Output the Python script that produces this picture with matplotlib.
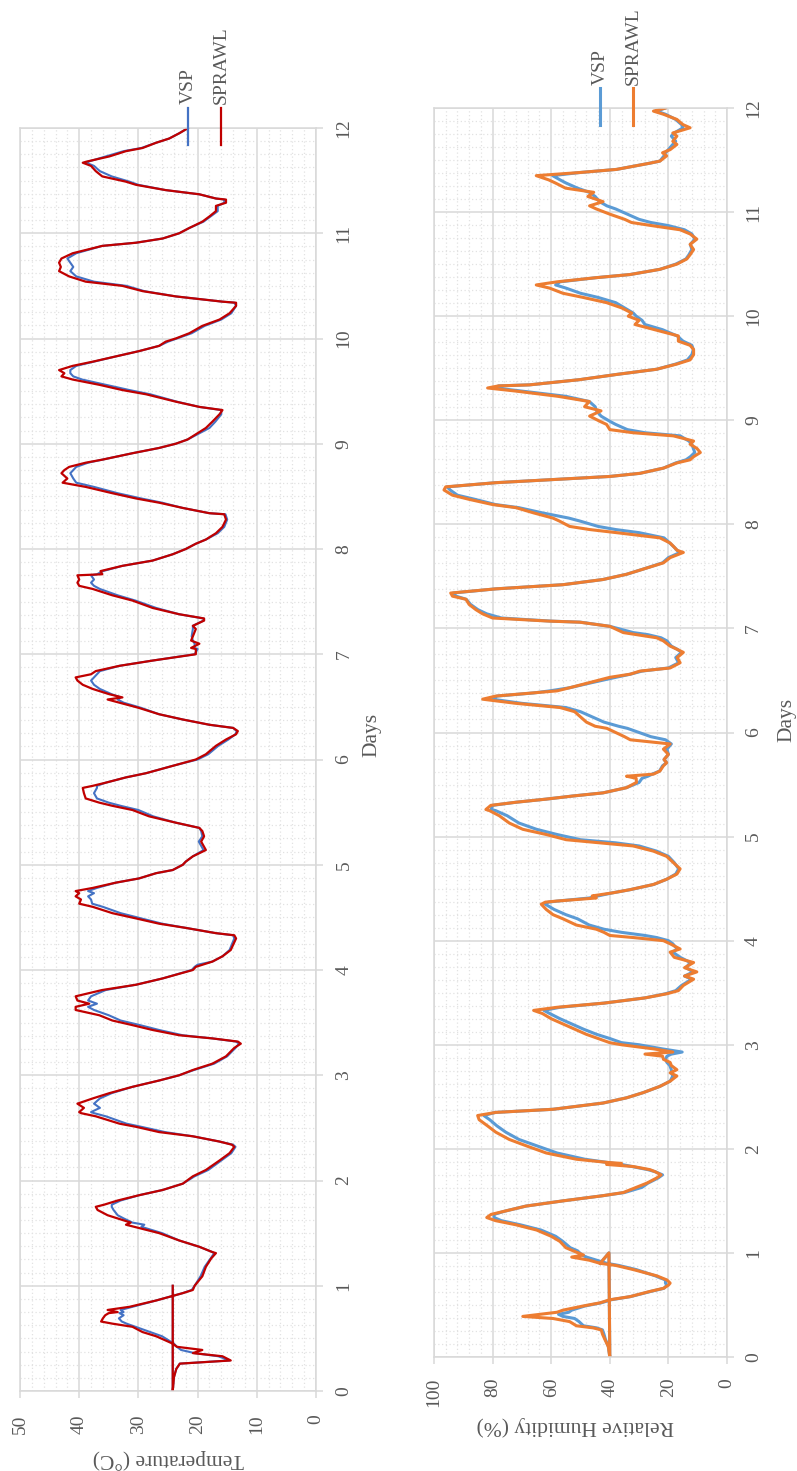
"""Indoor temperature and relative humidity, VSP vs SPRAWL, over 12 days.

The sheet is laid out rotated (days run bottom-to-top, values right-to-left),
so axes are drawn in that orientation with rotated text.
"""
import matplotlib
matplotlib.use("Agg")
import matplotlib.pyplot as plt
from matplotlib.lines import Line2D
from matplotlib.ticker import MultipleLocator

plt.rcParams["font.family"] = ["Liberation Serif", "DejaVu Serif"]

# ---- temperature (deg C) ----
t_days = [
    1.00, 0.00, 0.13, 0.21, 0.26, 0.29, 0.33, 0.36, 0.39, 0.42,
    0.45, 0.52, 0.56, 0.61, 0.64, 0.66, 0.69, 0.72, 0.74, 0.75,
    0.77, 0.80, 0.86, 0.93, 0.96, 1.00, 1.09, 1.18, 1.26, 1.31,
    1.32, 1.37, 1.43, 1.50, 1.56, 1.58, 1.60, 1.64, 1.67, 1.72,
    1.75, 1.77, 1.81, 1.86, 1.91, 1.97, 2.04, 2.10, 2.19, 2.26,
    2.32, 2.34, 2.37, 2.42, 2.46, 2.51, 2.54, 2.61, 2.64, 2.65,
    2.69, 2.73, 2.78, 2.83, 2.89, 2.95, 3.00, 3.05, 3.11, 3.18,
    3.26, 3.30, 3.32, 3.35, 3.38, 3.43, 3.48, 3.52, 3.57, 3.62,
    3.65, 3.68, 3.71, 3.75, 3.81, 3.86, 3.92, 4.00, 4.03, 4.05,
    4.08, 4.13, 4.19, 4.30, 4.33, 4.35, 4.40, 4.44, 4.49, 4.54,
    4.60, 4.63, 4.67, 4.70, 4.73, 4.75, 4.78, 4.83, 4.87, 4.92,
    4.95, 5.00, 5.03, 5.08, 5.14, 5.22, 5.27, 5.32, 5.35, 5.40,
    5.46, 5.52, 5.56, 5.59, 5.63, 5.68, 5.73, 5.75, 5.78, 5.83,
    5.87, 5.94, 6.00, 6.05, 6.13, 6.19, 6.24, 6.27, 6.30, 6.33,
    6.38, 6.43, 6.49, 6.54, 6.57, 6.59, 6.62, 6.67, 6.71, 6.75,
    6.78, 6.81, 6.84, 6.89, 6.94, 7.00, 7.05, 7.06, 7.10, 7.13,
    7.17, 7.24, 7.27, 7.32, 7.34, 7.38, 7.44, 7.51, 7.56, 7.62,
    7.65, 7.68, 7.71, 7.75, 7.76, 7.79, 7.84, 7.89, 7.95, 8.00,
    8.05, 8.09, 8.15, 8.21, 8.28, 8.33, 8.34, 8.39, 8.44, 8.48,
    8.53, 8.59, 8.63, 8.67, 8.72, 8.75, 8.78, 8.82, 8.85, 8.91,
    8.96, 9.00, 9.04, 9.09, 9.15, 9.21, 9.28, 9.32, 9.35, 9.40,
    9.47, 9.51, 9.56, 9.61, 9.64, 9.67, 9.70, 9.74, 9.78, 9.83,
    9.88, 9.93, 9.97, 10.00, 10.05, 10.12, 10.18, 10.24, 10.31, 10.34,
    10.35, 10.40, 10.45, 10.50, 10.54, 10.59, 10.64, 10.68, 10.72, 10.76,
    10.81, 10.88, 10.91, 10.95, 11.00, 11.05, 11.11, 11.16, 11.21, 11.26,
    11.29, 11.32, 11.33, 11.37, 11.41, 11.46, 11.49, 11.54, 11.59, 11.64,
    11.67, 11.68, 11.73, 11.78, 11.81, 11.86, 11.90, 11.95, 12.00,
]
t_sprawl = [
    24.2, 24.2, 24.0, 23.6, 23.0, 14.4, 15.8, 20.8, 19.2, 23.5,
    24.2, 27.0, 29.3, 31.0, 34.4, 36.3, 36.0, 35.6, 35.0, 33.5,
    35.2, 31.5, 27.0, 22.5, 20.8, 20.5, 19.2, 18.6, 17.7, 16.9,
    17.5, 19.7, 23.1, 26.5, 30.7, 32.1, 31.3, 33.5, 35.2, 36.9,
    37.2, 35.8, 33.5, 29.9, 25.9, 22.5, 20.8, 18.6, 16.3, 14.6,
    13.8, 14.2, 16.3, 20.8, 26.5, 30.4, 33.2, 37.2, 39.7, 40.0,
    39.2, 40.3, 37.7, 34.9, 31.0, 26.5, 23.1, 20.8, 17.5, 15.2,
    13.8, 12.7, 13.2, 17.5, 23.1, 27.6, 31.3, 34.4, 36.6, 40.6,
    40.6, 38.3, 40.3, 40.6, 36.1, 30.4, 25.9, 20.8, 20.3, 19.2,
    17.5, 15.8, 14.4, 13.5, 13.8, 16.9, 22.0, 26.5, 30.4, 34.4,
    37.7, 40.0, 39.7, 40.6, 40.0, 40.6, 37.7, 33.8, 29.9, 27.0,
    24.2, 22.5, 22.0, 20.8, 18.6, 19.4, 18.9, 19.2, 19.7, 23.7,
    28.2, 31.0, 34.4, 36.6, 38.9, 39.2, 39.4, 37.7, 35.5, 32.1,
    28.7, 24.2, 20.3, 18.6, 16.9, 15.2, 13.5, 13.2, 14.0, 18.0,
    22.5, 26.5, 29.9, 33.2, 35.2, 32.7, 34.9, 37.7, 39.4, 40.3,
    40.6, 38.0, 37.2, 33.2, 27.6, 20.3, 20.3, 21.1, 19.7, 21.1,
    20.8, 20.3, 20.8, 18.9, 18.9, 23.1, 27.6, 31.0, 34.4, 37.7,
    40.0, 40.3, 40.0, 40.3, 36.1, 36.4, 32.7, 27.6, 24.2, 22.0,
    20.3, 18.6, 16.9, 15.8, 15.2, 15.5, 18.0, 22.5, 26.5, 30.4,
    34.4, 38.9, 42.8, 42.0, 43.0, 42.5, 41.7, 38.9, 36.0, 31.0,
    26.5, 23.7, 21.7, 20.3, 18.6, 17.5, 16.3, 15.8, 19.7, 23.7,
    28.7, 32.7, 36.6, 41.1, 43.0, 42.5, 43.4, 41.1, 37.7, 33.8,
    29.9, 26.5, 25.4, 23.7, 21.4, 19.2, 16.3, 14.6, 13.5, 13.5,
    15.8, 23.7, 29.3, 32.7, 38.9, 41.7, 43.4, 43.1, 43.4, 43.0,
    41.1, 36.1, 30.4, 25.9, 23.1, 21.4, 19.2, 18.0, 16.9, 16.9,
    15.2, 15.2, 16.9, 19.7, 25.4, 30.4, 32.1, 36.1, 37.2, 38.0,
    39.4, 38.8, 34.9, 32.1, 29.3, 27.0, 24.8, 23.1, 21.6,
]
t_vsp = [
    24.2, 24.2, 24.0, 23.6, 23.0, 14.6, 16.5, 20.5, 22.8, 23.5,
    24.0, 26.0, 28.0, 30.5, 32.0, 32.8, 33.3, 32.5, 33.2, 32.5,
    33.0, 31.0, 27.0, 22.5, 21.0, 20.5, 19.5, 18.8, 17.8, 17.2,
    17.5, 19.7, 23.1, 26.0, 29.5, 29.0, 31.0, 32.5, 33.5, 34.2,
    34.5, 34.5, 33.0, 29.9, 25.9, 22.5, 20.5, 18.2, 16.0, 14.3,
    13.6, 14.0, 16.3, 20.8, 25.5, 29.5, 32.0, 35.5, 37.5, 38.0,
    36.5, 37.5, 36.5, 34.5, 31.0, 26.5, 23.1, 20.6, 17.2, 15.0,
    13.6, 13.0, 13.5, 17.5, 22.5, 26.5, 30.0, 33.0, 35.0, 37.5,
    38.5, 37.0, 38.5, 38.0, 35.5, 30.4, 25.9, 21.0, 20.5, 20.0,
    17.5, 15.8, 14.6, 13.8, 14.0, 16.9, 22.0, 26.0, 29.5, 33.0,
    36.0, 37.8, 38.0, 38.5, 37.5, 38.5, 37.0, 33.8, 29.9, 27.0,
    24.2, 22.5, 22.0, 20.8, 19.0, 19.8, 19.2, 19.4, 19.7, 23.7,
    27.5, 30.0, 33.0, 35.0, 37.0, 37.5, 37.0, 37.0, 35.5, 32.1,
    28.7, 24.2, 20.0, 18.2, 16.5, 14.8, 13.6, 13.4, 14.0, 18.0,
    22.5, 26.5, 29.5, 32.5, 33.5, 33.0, 34.5, 36.5, 37.5, 38.0,
    37.5, 37.0, 36.5, 33.2, 27.6, 20.5, 20.0, 20.5, 20.5, 20.8,
    21.0, 20.8, 20.8, 19.0, 19.0, 23.1, 27.0, 30.5, 33.5, 36.5,
    37.5, 38.0, 37.5, 38.0, 37.0, 36.0, 32.7, 27.6, 24.2, 22.0,
    20.3, 18.6, 16.6, 15.5, 15.0, 15.3, 18.0, 22.5, 26.0, 29.5,
    33.5, 37.5, 40.5, 41.0, 41.5, 41.0, 40.5, 38.5, 36.0, 31.0,
    26.5, 23.7, 21.7, 20.0, 18.0, 17.0, 16.0, 16.0, 19.7, 23.5,
    28.0, 31.5, 35.5, 39.5, 41.0, 41.5, 41.5, 40.5, 37.5, 33.8,
    29.9, 26.5, 25.0, 23.5, 21.0, 18.8, 16.0, 14.3, 13.5, 13.8,
    15.8, 23.7, 29.0, 32.0, 37.5, 40.5, 41.5, 41.0, 41.5, 42.0,
    40.5, 36.1, 30.4, 25.9, 23.1, 21.4, 19.0, 17.8, 16.6, 16.6,
    15.5, 15.5, 16.9, 19.7, 25.4, 30.0, 31.5, 34.5, 36.5, 37.5,
    38.8, 38.5, 35.5, 32.5, 29.5, 27.0, 24.8, 23.1, 21.6,
]

# ---- relative humidity (%) ----
rh_days = [
    0.90, 1.00, 0.00, 0.10, 0.17, 0.22, 0.26, 0.28, 0.30, 0.34,
    0.37, 0.39, 0.41, 0.43, 0.45, 0.49, 0.52, 0.55, 0.58, 0.63,
    0.66, 0.69, 0.71, 0.74, 0.78, 0.84, 0.88, 0.90, 0.93, 0.96,
    0.98, 1.02, 1.05, 1.11, 1.16, 1.22, 1.27, 1.31, 1.34, 1.37,
    1.40, 1.45, 1.50, 1.55, 1.58, 1.63, 1.67, 1.72, 1.75, 1.78,
    1.80, 1.83, 1.85, 1.86, 1.87, 1.90, 1.96, 2.03, 2.09, 2.16,
    2.22, 2.28, 2.32, 2.35, 2.38, 2.44, 2.49, 2.54, 2.60, 2.65,
    2.70, 2.73, 2.76, 2.80, 2.83, 2.86, 2.89, 2.91, 2.93, 2.96,
    3.00, 3.02, 3.06, 3.10, 3.15, 3.20, 3.25, 3.30, 3.33, 3.36,
    3.40, 3.45, 3.49, 3.52, 3.57, 3.63, 3.66, 3.70, 3.74, 3.79,
    3.84, 3.89, 3.92, 3.97, 4.00, 4.03, 4.05, 4.08, 4.11, 4.15,
    4.21, 4.25, 4.30, 4.35, 4.37, 4.38, 4.41, 4.43, 4.46, 4.49,
    4.54, 4.59, 4.64, 4.69, 4.75, 4.81, 4.86, 4.91, 4.94, 4.97,
    5.02, 5.07, 5.13, 5.20, 5.25, 5.26, 5.30, 5.33, 5.36, 5.39,
    5.42, 5.47, 5.52, 5.56, 5.58, 5.60, 5.63, 5.68, 5.71, 5.74,
    5.79, 5.84, 5.89, 5.93, 5.96, 6.00, 6.04, 6.06, 6.10, 6.15,
    6.20, 6.24, 6.28, 6.32, 6.35, 6.38, 6.40, 6.43, 6.48, 6.53,
    6.56, 6.59, 6.62, 6.67, 6.72, 6.77, 6.80, 6.83, 6.88, 6.91,
    6.94, 6.96, 6.99, 7.02, 7.06, 7.07, 7.09, 7.10, 7.14, 7.18,
    7.23, 7.28, 7.31, 7.34, 7.38, 7.42, 7.47, 7.52, 7.57, 7.63,
    7.68, 7.73, 7.75, 7.78, 7.82, 7.87, 7.92, 7.95, 7.98, 8.03,
    8.06, 8.11, 8.16, 8.19, 8.24, 8.28, 8.33, 8.36, 8.40, 8.43,
    8.46, 8.49, 8.54, 8.59, 8.62, 8.65, 8.69, 8.73, 8.77, 8.80,
    8.85, 8.88, 8.91, 8.96, 8.99, 9.04, 9.09, 9.13, 9.18, 9.23,
    9.28, 9.31, 9.33, 9.34, 9.39, 9.44, 9.49, 9.54, 9.58, 9.63,
    9.68, 9.72, 9.76, 9.81, 9.87, 9.92, 9.96, 10.00, 10.03, 10.08,
    10.13, 10.18, 10.22, 10.27, 10.30, 10.33, 10.37, 10.40, 10.45, 10.50,
    10.55, 10.59, 10.64, 10.69, 10.74, 10.79, 10.83, 10.87, 10.90, 10.93,
    10.98, 11.03, 11.06, 11.10, 11.15, 11.19, 11.23, 11.28, 11.31, 11.35,
    11.38, 11.41, 11.44, 11.47, 11.49, 11.54, 11.57, 11.60, 11.65, 11.68,
    11.73, 11.76, 11.81, 11.84, 11.89, 11.94, 11.97, 12.00,
]
rh_sprawl = [
    43.3, 40.3, 40.0, 40.5, 41.7, 42.5, 42.9, 45.7, 51.4, 53.7,
    59.4, 69.7, 64.0, 58.0, 56.0, 49.1, 43.4, 40.0, 33.1, 26.3,
    21.7, 20.0, 19.4, 20.5, 24.0, 32.0, 38.0, 43.3, 47.0, 53.0,
    49.0, 52.5, 55.0, 57.0, 60.0, 65.0, 72.0, 79.0, 82.0, 80.5,
    76.0, 68.6, 56.0, 42.3, 35.4, 30.9, 27.4, 24.0, 22.5, 24.5,
    26.3, 32.0, 41.1, 36.0, 41.0, 51.4, 61.7, 68.6, 74.3, 78.9,
    81.7, 84.6, 85.1, 78.9, 59.4, 42.3, 34.3, 28.6, 22.9, 19.4,
    17.1, 19.4, 17.1, 19.0, 19.4, 21.7, 22.0, 28.0, 18.5, 25.0,
    36.0, 40.0, 44.0, 48.0, 52.0, 56.0, 60.0, 63.0, 66.0, 58.0,
    42.0, 28.0, 20.5, 16.6, 14.9, 11.4, 14.5, 10.3, 14.5, 11.4,
    18.0, 19.4, 16.0, 19.4, 21.7, 32.0, 40.0, 42.0, 44.6, 51.4,
    56.0, 59.4, 61.7, 63.4, 62.0, 58.3, 44.6, 46.0, 38.9, 33.1,
    25.1, 20.6, 17.1, 16.0, 18.3, 20.6, 25.1, 32.0, 43.4, 54.9,
    61.7, 69.7, 74.3, 77.7, 81.1, 82.3, 80.6, 72.0, 61.7, 52.6,
    42.3, 34.3, 30.9, 31.0, 34.3, 25.1, 22.9, 21.7, 20.6, 21.5,
    20.0, 21.7, 19.4, 33.0, 35.0, 38.0, 41.0, 45.0, 48.0, 50.0,
    52.0, 57.0, 72.0, 83.4, 78.9, 66.3, 58.0, 53.7, 46.9, 40.0,
    33.1, 29.7, 19.4, 16.0, 17.0, 14.9, 17.1, 19.4, 21.7, 24.0,
    30.9, 35.4, 37.7, 40.0, 50.3, 60.6, 73.1, 80.0, 83.4, 85.7,
    88.0, 89.1, 93.7, 94.3, 78.9, 56.0, 42.3, 34.3, 28.6, 21.7,
    19.4, 14.9, 17.0, 18.0, 19.4, 22.9, 37.7, 46.9, 53.7, 57.1,
    59.4, 66.0, 72.0, 80.0, 88.0, 93.7, 96.6, 96.0, 78.9, 59.4,
    40.0, 29.7, 21.7, 17.1, 12.6, 11.4, 9.1, 10.3, 12.6, 11.4,
    18.3, 32.0, 40.0, 41.1, 43.4, 46.9, 43.0, 48.6, 47.0, 57.7,
    72.0, 81.7, 78.0, 67.4, 50.3, 37.7, 24.0, 17.1, 12.6, 11.4,
    11.4, 12.6, 16.6, 16.6, 24.6, 31.4, 30.0, 33.7, 32.5, 36.0,
    41.1, 49.1, 56.0, 60.6, 65.1, 58.0, 44.6, 33.1, 22.9, 17.1,
    13.7, 12.6, 11.4, 12.6, 10.3, 12.6, 16.0, 25.7, 32.6, 34.9,
    40.0, 44.6, 46.9, 42.3, 47.5, 45.5, 55.1, 58.6, 60.9, 65.1,
    50.3, 37.7, 32.0, 26.3, 22.9, 20.6, 22.0, 19.4, 17.1, 18.5,
    17.1, 18.5, 12.6, 15.0, 17.1, 21.7, 25.1, 21.0,
]
rh_vsp = [
    43.3, 40.3, 40.0, 40.5, 41.5, 42.0, 42.5, 44.5, 49.0, 50.5,
    52.0, 56.0, 57.5, 54.0, 53.0, 48.5, 43.0, 39.5, 33.0, 26.0,
    21.5, 20.5, 21.0, 21.0, 24.5, 31.0, 37.0, 41.0, 44.5, 48.0,
    49.5, 51.0, 53.5, 56.0, 58.5, 63.5, 70.5, 77.0, 79.5, 79.5,
    76.0, 68.6, 56.0, 42.3, 35.0, 29.0, 27.0, 23.5, 22.0, 24.5,
    27.0, 32.5, 36.0, 38.5, 41.0, 48.5, 58.0, 65.0, 71.0, 75.5,
    78.5, 81.0, 83.0, 79.0, 59.4, 42.3, 34.3, 28.6, 22.9, 19.4,
    18.5, 19.0, 19.0, 19.5, 20.5, 21.0, 20.5, 19.0, 15.3, 22.0,
    30.0, 36.0, 40.0, 44.5, 49.0, 53.0, 57.0, 60.5, 62.5, 57.0,
    42.0, 28.0, 21.0, 17.5, 15.5, 12.0, 14.5, 11.5, 14.0, 12.5,
    16.0, 18.5, 17.0, 18.5, 20.0, 24.0, 28.0, 36.0, 42.0, 47.0,
    51.0, 55.0, 59.0, 62.0, 61.0, 58.0, 47.0, 44.0, 39.0, 33.0,
    25.0, 20.6, 17.5, 16.5, 18.0, 20.0, 24.0, 30.0, 38.0, 50.0,
    58.0, 65.0, 71.0, 75.0, 79.0, 80.5, 80.0, 72.0, 61.7, 52.6,
    42.3, 34.3, 30.0, 29.0, 27.0, 25.5, 23.0, 22.0, 20.6, 21.5,
    20.0, 20.5, 19.0, 21.0, 26.0, 30.0, 34.0, 37.0, 42.0, 46.0,
    50.0, 55.0, 70.0, 80.0, 78.5, 66.0, 60.5, 53.7, 46.0, 38.0,
    33.0, 29.0, 20.0, 16.5, 17.5, 15.5, 17.0, 19.0, 20.5, 22.5,
    27.0, 32.0, 36.0, 40.0, 50.0, 60.0, 71.0, 77.0, 82.0, 85.0,
    87.5, 89.0, 92.5, 93.5, 79.0, 56.0, 42.3, 34.3, 28.6, 22.0,
    20.0, 16.0, 17.0, 18.0, 19.5, 21.5, 30.0, 38.0, 44.0, 50.0,
    54.0, 63.0, 71.0, 79.0, 86.0, 92.0, 94.5, 95.5, 79.0, 59.4,
    40.0, 29.7, 21.7, 17.5, 14.0, 12.5, 11.0, 11.5, 12.0, 13.0,
    16.0, 28.0, 34.0, 38.0, 40.0, 43.0, 44.5, 45.0, 47.0, 55.0,
    70.0, 79.0, 78.0, 67.4, 50.3, 37.7, 24.0, 17.5, 13.5, 12.0,
    11.5, 12.0, 15.0, 17.0, 22.0, 28.0, 29.0, 31.0, 32.0, 35.0,
    38.0, 44.0, 50.0, 55.0, 58.5, 57.0, 44.6, 33.1, 22.9, 17.5,
    14.0, 13.0, 12.0, 12.5, 11.0, 12.0, 14.5, 20.0, 26.0, 30.0,
    34.0, 38.0, 41.0, 43.5, 45.0, 47.0, 51.0, 55.0, 57.0, 59.5,
    50.3, 37.7, 32.0, 26.3, 22.9, 21.5, 21.0, 20.0, 18.5, 17.5,
    19.0, 18.0, 15.0, 15.5, 17.5, 21.0, 24.0, 21.0,
]

W, H = 797, 1471
TXT = "#595959"
GRID = "#d9d9d9"


def fx(x):
    return x / W


def fy(y):
    return 1 - y / H


def make_axes(x0, x1, y0, y1):
    return fig.add_axes([fx(x0), fy(y1), fx(x1 - x0), (y1 - y0) / H])


def style(ax, vmax, vmajor, vminor, xpad, ypad):
    ax.set_xlim(vmax, 0)
    ax.set_ylim(0, 12)
    ax.xaxis.set_major_locator(MultipleLocator(vmajor))
    ax.xaxis.set_minor_locator(MultipleLocator(vminor))
    ax.yaxis.set_major_locator(MultipleLocator(1))
    ax.yaxis.set_minor_locator(MultipleLocator(0.125))
    ax.grid(which="major", color=GRID, lw=1.1)
    ax.grid(which="minor", color="#e2e2e2", lw=0.9, ls=(0, (1, 2)))
    ax.set_axisbelow(True)
    for s in ax.spines.values():
        s.set_color(GRID)
        s.set_linewidth(1.1)
    ax.yaxis.tick_right()
    ax.tick_params(which="major", length=5, width=1.1, color=GRID,
                   labelcolor=TXT, labelsize=14)
    ax.tick_params(which="minor", length=0)
    ax.tick_params(axis="x", labelrotation=90, pad=xpad)
    ax.tick_params(axis="y", labelrotation=90, pad=ypad)
    for lab in ax.get_yticklabels():
        lab.set_va("center")


def legend(x_vsp, x_spr, y0, y1, ytxt, c_vsp, c_spr, lw):
    for x, c, name in [(x_vsp, c_vsp, "VSP"), (x_spr, c_spr, "SPRAWL")]:
        fig.add_artist(Line2D([fx(x), fx(x)], [fy(y0), fy(y1)], color=c, lw=lw))
        fig.text(fx(x), fy(ytxt), name, rotation=90, ha="center", va="bottom",
                 fontsize=14, color=TXT)


fig = plt.figure(figsize=(W / 100, H / 100), dpi=100)

# ---- temperature panel ----
ax = make_axes(20, 316, 128, 1391)
ax.plot(t_vsp, t_days, color="#4472C4", lw=1.5)
ax.plot(t_sprawl, t_days, color="#C00000", lw=1.6)
style(ax, 50, 10, 2, xpad=12, ypad=9)
fig.text(fx(168), fy(1459), "Temperature (°C)", rotation=180,
         ha="center", va="center", fontsize=15.5, color=TXT)
fig.text(fx(372), fy(735), "Days", rotation=90,
         ha="center", va="center", fontsize=15.5, color=TXT)
legend(188, 221, 108, 145, 104, "#4472C4", "#C00000", 1.6)

# ---- relative humidity panel ----
ax = make_axes(434, 727, 108, 1357)
ax.plot(rh_vsp, rh_days, color="#5B9BD5", lw=2.2)
ax.plot(rh_sprawl, rh_days, color="#ED7D31", lw=2.2)
style(ax, 100, 20, 4, xpad=10, ypad=8)
fig.text(fx(575), fy(1426), "Relative Humidity (%)", rotation=180,
         ha="center", va="center", fontsize=15.5, color=TXT)
fig.text(fx(787), fy(720), "Days", rotation=90,
         ha="center", va="center", fontsize=15.5, color=TXT)
legend(600, 633, 88, 125, 85, "#5B9BD5", "#ED7D31", 2.2)

fig.savefig("out.png", dpi=100)
